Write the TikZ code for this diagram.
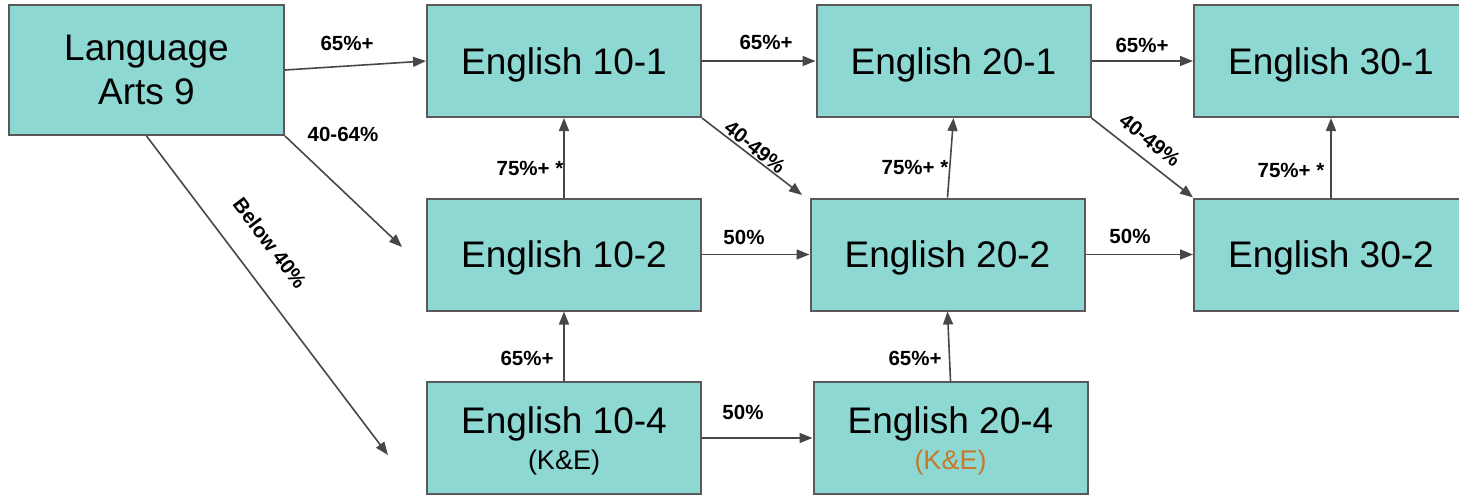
\documentclass[tikz,border=0pt]{standalone}
\usepackage{fontspec}
\setmainfont{Liberation Sans}
\usetikzlibrary{arrows.meta}
\definecolor{boxfill}{HTML}{8ED8D3}
\definecolor{boxline}{HTML}{595959}
\definecolor{arrowc}{HTML}{474747}
\definecolor{orangetxt}{HTML}{C47A28}
\tikzset{
  course/.style={draw=boxline, line width=2pt, fill=boxfill, minimum width=274pt, minimum height=112pt, inner sep=0pt, align=center, text depth=0pt, font=\fontsize{37}{44}\selectfont},
  conn/.style={draw=arrowc, line width=1.6pt, -{Triangle[length=13pt,width=10pt]}},
  lbl/.style={font=\fontsize{20.5}{24}\bfseries\selectfont, inner sep=0pt},
}
\begin{document}
\begin{tikzpicture}[x=1pt,y=-1pt]
\useasboundingbox (0,0) rectangle (1459,495);
\clip (0,0) rectangle (1459,495);
\node[course, minimum width=275pt, minimum height=130pt] (la9) at (146.5,70) {Language\\Arts 9};
\node[course] (e101) at (564,61) {English 10-1};
\node[course] (e201) at (953.5,61) {English 20-1};
\node[course] (e301) at (1331,61) {English 30-1};
\node[course] (e102) at (564,254.5) {English 10-2};
\node[course] (e202) at (947.5,254.5) {English 20-2};
\node[course] (e302) at (1331,254.5) {English 30-2};
\node[course] (e104) at (564,438) {English 10-4\\[-8pt]{\fontsize{27}{30}\selectfont (K\&E)}};
\node[course] (e204) at (950.5,438) {English 20-4\\[-8pt]{\fontsize{27}{30}\selectfont\color{orangetxt}(K\&E)}};
\coordinate (t102) at (402,247);
\coordinate (t104) at (388,455);
\coordinate (t202) at (802,195);
\draw[conn] (la9.east) -- (e101.west);
\draw[conn] (la9.south east) -- (t102);
\draw[conn] (la9.south) -- (t104);
\draw[conn] (e101.east) -- (e201.west);
\draw[conn] (e201.east) -- (e301.west);
\draw[conn] (e101.south east) -- (t202);
\draw[conn] (e201.south east) -- (e302.north west);
\draw[conn] (e102.north) -- (e101.south);
\draw[conn] (e202.north) -- (e201.south);
\draw[conn] (e302.north) -- (e301.south);
\draw[conn] (e102.east) -- (e202.west);
\draw[conn] (e202.east) -- (e302.west);
\draw[conn] (e104.north) -- (e102.south);
\draw[conn] (e204.north) -- (e202.south);
\draw[conn] (e104.east) -- (e204.west);
\node[lbl] (l1) at (347,43) {65\%+};
\node[lbl] (l2) at (343,134) {40-64\%};
\node[lbl, rotate=-53] (l3) at (270,243) {Below 40\%};
\node[lbl] (l4) at (766,42) {65\%+};
\node[lbl] (l5) at (1142,45) {65\%+};
\node[lbl, rotate=-38] (l6) at (755,147) {40-49\%};
\node[lbl, rotate=-38] (l7) at (1150,140) {40-49\%};
\node[lbl] (l8) at (530,168) {75\%+ *};
\node[lbl] (l9) at (915,167) {75\%+ *};
\node[lbl] (l10) at (1291,170) {75\%+ *};
\node[lbl] (l11) at (744,237) {50\%};
\node[lbl] (l12) at (1130,236) {50\%};
\node[lbl] (l13) at (527,358) {65\%+};
\node[lbl] (l14) at (915,358) {65\%+};
\node[lbl] (l15) at (743,412) {50\%};
\end{tikzpicture}
\end{document}
